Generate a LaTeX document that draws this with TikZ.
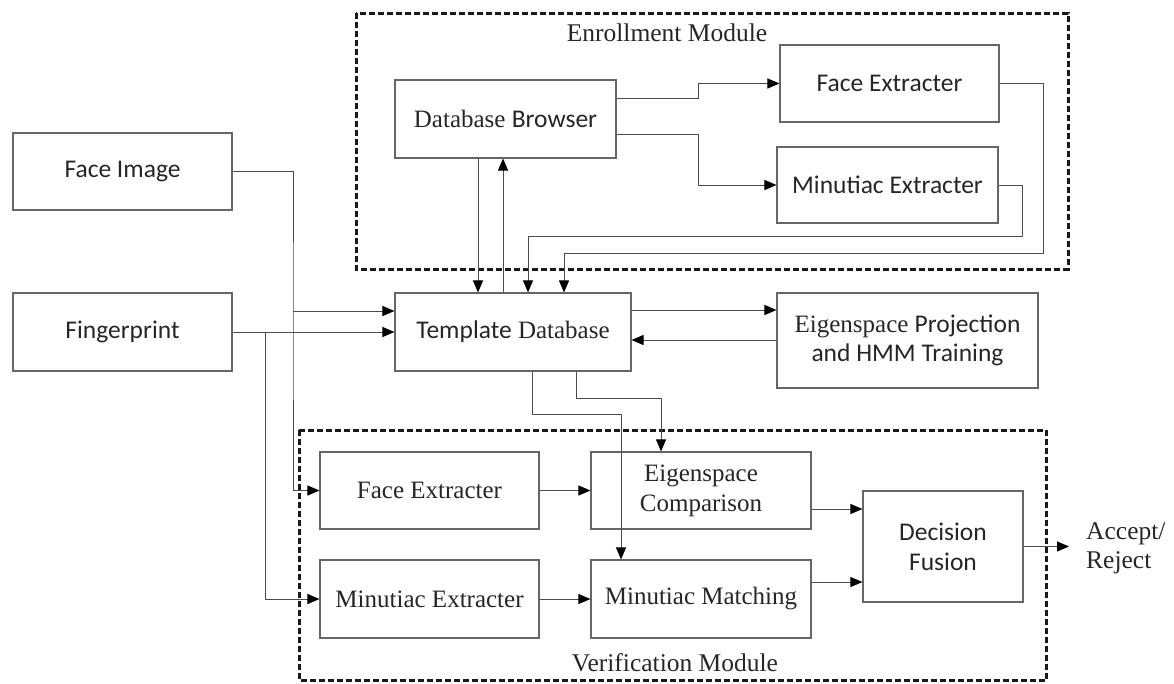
\documentclass[tikz,border=0pt]{standalone}
\usepackage{fontspec}
\setmainfont{Liberation Serif}
\newfontfamily\sansfam{Carlito}
\newcommand\SansTxt[1]{{\fontsize{25.5}{30}\selectfont\sansfam #1}}
\usetikzlibrary{arrows.meta}
\tikzset{
 blk/.style={draw=black!60, line width=1.1pt, inner sep=0pt, text=black!85,
   font=\fontsize{25}{30}\selectfont, align=center},
 arr/.style={draw=black!70, line width=1pt, -{Triangle[length=12pt,width=10pt,color=black]}},
 module/.style={draw=black!90, line width=3pt, dash pattern=on 6pt off 3pt},
 lbl/.style={inner sep=0pt, text=black!85, font=\fontsize{25.5}{29}\selectfont},
}
\begin{document}
\begin{tikzpicture}[x=1pt,y=-1pt]
\useasboundingbox (0,0) rectangle (1174,683);
% module frames
\draw[module] (356,13) rectangle (1068,269);
\draw[module] (299,430) rectangle (1046,680.5);
\node[lbl] (enrl) at (667,33) {Enrollment Module};
\node[lbl] (verl) at (675,663) {Verification Module};

% boxes
\node[blk, minimum width=219pt, minimum height=77pt] (faceimg) at (122.5,171.5) {\SansTxt{Face Image}};
\node[blk, minimum width=219pt, minimum height=78pt] (finger) at (122.5,332) {\SansTxt{Fingerprint}};
\node[blk, minimum width=221pt, minimum height=78pt] (browser) at (505.5,119) {Database \SansTxt{Browser}};
\node[blk, minimum width=219pt, minimum height=77pt] (efacex) at (889.5,83.5) {\SansTxt{Face Extracter}};
\node[blk, minimum width=221pt, minimum height=76pt] (eminex) at (887.5,185) {\SansTxt{Minutiac Extracter}};
\node[blk, minimum width=236pt, minimum height=78pt] (tdb) at (513,332) {\SansTxt{Template} Database};
\node[blk, minimum width=261pt, minimum height=95pt] (eproj) at (907.5,340.5) {Eigenspace \SansTxt{Projection}\\[-1pt]\SansTxt{and HMM Training}};
\node[blk, minimum width=219pt, minimum height=77pt] (vfacex) at (429.5,490.5) {Face Extracter};
\node[blk, minimum width=219pt, minimum height=78pt] (vminex) at (429.5,599) {Minutiac Extracter};
\node[blk, minimum width=220pt, minimum height=77pt] (eigcmp) at (701,490.5) {Eigenspace\\Comparison};
\node[blk, minimum width=220pt, minimum height=78pt] (minmat) at (701,599) {Minutiac Matching};
\node[blk, minimum width=160pt, minimum height=111pt] (fusion) at (943,546.5) {\SansTxt{Decision}\\\SansTxt{Fusion}};
\node[lbl, anchor=west, align=left] (acc) at (1086,548) {Accept/\\Reject};

% junction coordinates
\coordinate (jF) at (293,311);
\coordinate (jP) at (265,332);
\coordinate (bsplit) at (698,119);
\coordinate (m1) at (1022,236);
\coordinate (f1) at (1043,253);
\coordinate (k1) at (532,414);
\coordinate (k2) at (576,398);
\coordinate (out) at (1069,546.5);

% inputs
\draw[arr] (faceimg.east) -| (jF) |- (vfacex.west);
\draw[arr] (jF) -- (jF -| tdb.west);
\draw[arr] (finger.east) -- (tdb.west);
\draw[arr] (jP) |- (vminex.west);

% enrollment
\draw[arr] ([yshift=21pt]browser.east) -- ([yshift=21pt]browser.east -| bsplit) |- (efacex.west);
\draw[arr] ([yshift=-15pt]browser.east) -- ([yshift=-15pt]browser.east -| bsplit) |- (eminex.west);
\draw[arr] ([xshift=-35pt]tdb.north |- browser.south) -- ([xshift=-35pt]tdb.north);
\draw[arr] ([xshift=-10pt]tdb.north) -- ([xshift=-10pt]tdb.north |- browser.south);
\draw[arr] (eminex.east) -| (m1) -| ([xshift=15pt]tdb.north);
\draw[arr] (efacex.east) -| (f1) -| ([xshift=51pt]tdb.north);

% training
\draw[arr] ([yshift=22pt]tdb.east) -- ([yshift=22pt]tdb.east -| eproj.west);
\draw[arr] ([yshift=-8pt]tdb.east -| eproj.west) -- ([yshift=-8pt]tdb.east);

% verification
\draw[arr] ([xshift=19pt]tdb.south) -- ([xshift=19pt]tdb.south |- k1) -| ([xshift=-80pt]minmat.north);
\draw[arr] ([xshift=63pt]tdb.south) -- ([xshift=63pt]tdb.south |- k2) -| ([xshift=-40pt]eigcmp.north);
\draw[arr] (vfacex.east) -- (eigcmp.west);
\draw[arr] (vminex.east) -- (minmat.west);
\draw[arr] ([yshift=-18.5pt]eigcmp.east) -- ([yshift=-18.5pt]eigcmp.east -| fusion.west);
\draw[arr] ([yshift=17pt]minmat.east) -- ([yshift=17pt]minmat.east -| fusion.west);
\draw[arr] (fusion.east) -- (out);
\end{tikzpicture}
\end{document}
